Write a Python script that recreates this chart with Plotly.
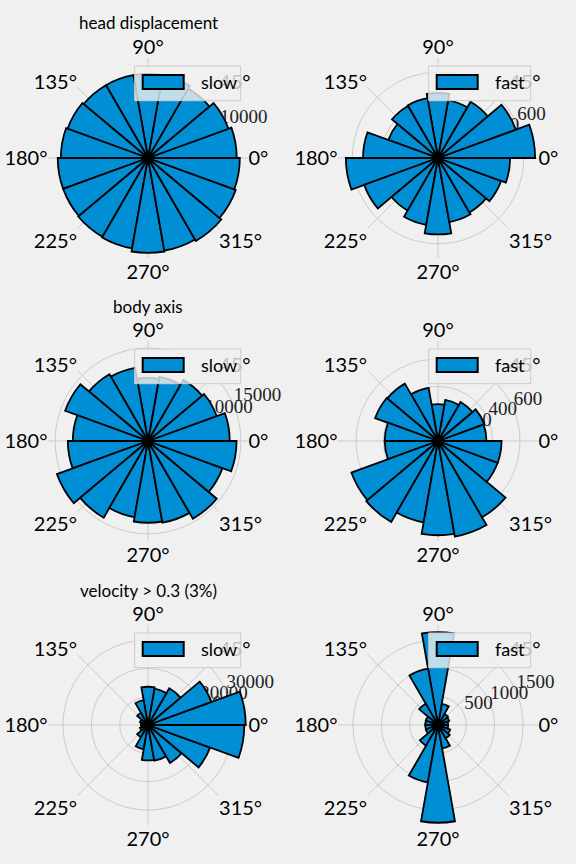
import plotly.graph_objects as go

# ---------------- data ----------------
theta_centers = [10, 30, 50, 70, 90, 110, 130, 150, 170, 190, 210, 230, 250, 270, 290, 310, 330, 350]
bin_width = 20

head_slow = [11400, 11000, 10300, 10700, 10800, 10800, 10800, 11000, 11200,
             11600, 11600, 11700, 11800, 12200, 12100, 12300, 12000, 11800]
head_fast = [680, 580, 455, 410, 455, 425, 420, 370, 525,
             645, 550, 425, 475, 535, 455, 440, 470, 505]
body_slow = [13200, 11800, 11400, 10500, 10200, 12000, 12450, 14250, 12150,
             12950, 15650, 14300, 12500, 13200, 13400, 14500, 12800, 14300]
body_fast = [355, 360, 330, 305, 270, 395, 485, 490, 390,
             390, 675, 685, 605, 690, 710, 645, 465, 465]
vel_slow = [34500, 23800, 15000, 13000, 13500, 8900, 5000, 3000, 2500,
            2500, 3000, 5000, 8700, 12500, 12800, 15500, 23300, 34000]
vel_fast = [180, 210, 230, 380, 1640, 1010, 435, 230, 225,
            225, 230, 420, 1030, 1725, 420, 270, 230, 180]

row_titles = ["head displacement", "body axis", "velocity > 0.3 (3%)"]
col_labels = ["slow", "fast"]

angle_ticks = [0, 45, 90, 135, 180, 225, 270, 315]
angle_labels = [f"{a}°" for a in angle_ticks]

radial_max = [12850, 700, 16150, 732, 35300, 1765]
radial_ticks = [[5000, 10000], [200, 400, 600], [5000, 10000, 15000],
                [200, 400, 600], [10000, 20000, 30000], [500, 1000, 1500]]
radial_label_angle = 22.5

series = [head_slow, head_fast, body_slow, body_fast, vel_slow, vel_fast]

# ---------------- layout geometry (pixels) ----------------
W, H = 576, 864
R = 100
centers = [(148, 158), (438, 158), (148, 441), (438, 441), (148, 725), (438, 725)]

BG = "#f0f0f0"
GRID = "#cbcbcb"
BAR = "#008fd5"
SANS = "Lato, 'Open Sans', sans-serif"
SERIF = "'Liberation Serif', 'DejaVu Serif', serif"

def px(x):
    return x / W

def py(y):
    return 1 - y / H

fig = go.Figure()
layout = dict(
    width=W, height=H,
    paper_bgcolor=BG, plot_bgcolor=BG,
    margin=dict(l=0, r=0, t=0, b=0),
    showlegend=False,
    font=dict(family=SANS, color="black"),
)

# lower subplots (polar..polar6): background, grid, tick labels
# upper subplots (polar7..polar12): the bars, transparent, drawn on top so that
# the radial labels end up beneath the bars as in matplotlib
base_keys = ["polar" if i == 0 else f"polar{i+1}" for i in range(6)]
bar_keys = [f"polar{i+7}" for i in range(6)]

for i, key in enumerate(base_keys):
    fig.add_trace(go.Scatterpolar(
        r=radial_ticks[i], theta=[radial_label_angle] * len(radial_ticks[i]),
        mode="text", text=[str(t) for t in radial_ticks[i]],
        textposition="top right",
        textfont=dict(family=SERIF, size=19, color="#222222"),
        subplot=key, showlegend=False, hoverinfo="skip",
    ))

shapes = []
annotations = []

for i, (vals, (cx, cy)) in enumerate(zip(series, centers)):
    dom = dict(x=[px(cx - R), px(cx + R)], y=[py(cy + R), py(cy - R)])
    fig.add_trace(go.Barpolar(
        r=vals, theta=theta_centers, width=[bin_width] * len(vals),
        marker=dict(color=BAR, line=dict(color="black", width=1.8)),
        name=col_labels[i % 2], subplot=bar_keys[i], showlegend=False,
    ))
    layout[base_keys[i]] = dict(
        domain=dom, bgcolor=BG,
        radialaxis=dict(
            range=[0, radial_max[i]], tickvals=radial_ticks[i],
            showticklabels=False, angle=radial_label_angle,
            showline=False, ticks="", gridcolor=GRID, gridwidth=1,
        ),
        angularaxis=dict(
            rotation=0, direction="counterclockwise",
            tickmode="array", tickvals=angle_ticks, ticktext=angle_labels,
            showline=False, ticks="", gridcolor=GRID, gridwidth=1,
            tickfont=dict(family=SANS, size=20, color="black"),
        ),
    )
    layout[bar_keys[i]] = dict(
        domain=dom, bgcolor="rgba(0,0,0,0)",
        radialaxis=dict(range=[0, radial_max[i]], showticklabels=False,
                        showgrid=False, showline=False, ticks=""),
        angularaxis=dict(rotation=0, direction="counterclockwise",
                         showticklabels=False, showgrid=False, showline=False, ticks=""),
    )

    # legend box (drawn like matplotlib's upper-right legend)
    lab = col_labels[i % 2]
    bw = 106 if lab == "slow" else 102
    right = cx + 92.7
    left = right - bw
    top = cy - 92
    bottom = cy - 57.3
    shapes.append(dict(type="rect", xref="paper", yref="paper",
                       x0=px(left), x1=px(right), y0=py(bottom), y1=py(top),
                       fillcolor="rgba(240,240,240,0.8)",
                       line=dict(color="#cccccc", width=1), layer="above"))
    shapes.append(dict(type="rect", xref="paper", yref="paper",
                       x0=px(left + 8), x1=px(left + 49), y0=py(cy - 69), y1=py(cy - 83),
                       fillcolor=BAR, line=dict(color="black", width=2), layer="above"))
    annotations.append(dict(xref="paper", yref="paper", x=px(left + 64), y=py(cy - 76),
                            xanchor="left", yanchor="middle", showarrow=False,
                            text=lab, font=dict(family=SANS, size=18, color="black")))

    if i % 2 == 0:
        annotations.append(dict(xref="paper", yref="paper", x=px(cx), y=py(cy - R - 35),
                                xanchor="center", yanchor="middle", showarrow=False,
                                text=row_titles[i // 2],
                                font=dict(family=SANS, size=17, color="black")))

layout["shapes"] = shapes
layout["annotations"] = annotations
fig.update_layout(**layout)
fig.write_html("out.html")
